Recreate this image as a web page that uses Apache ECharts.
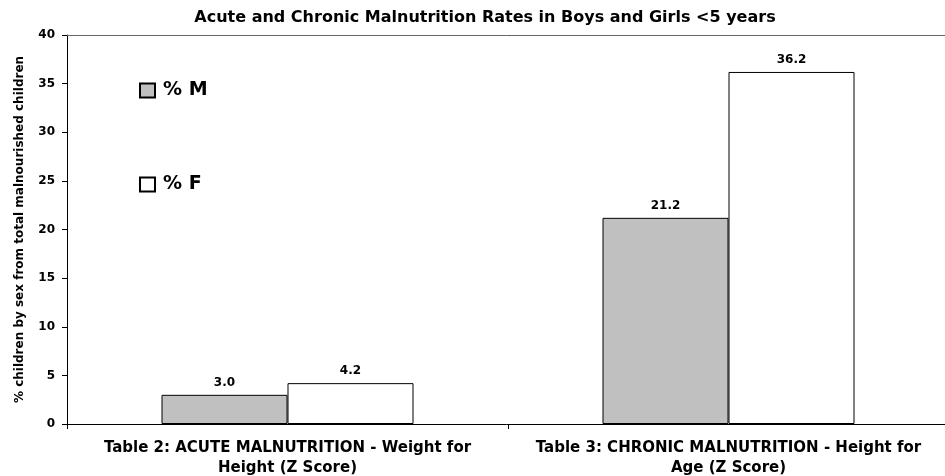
<!DOCTYPE html>
<html><head><meta charset="utf-8">
<script src="https://cdn.jsdelivr.net/npm/echarts@6/dist/echarts.min.js"></script>
<style>html,body{margin:0;padding:0;background:#fff}#c{width:945px;height:476px}</style>
</head><body><div id="c"></div>
<script>
const categories = ['Table 2: ACUTE MALNUTRITION - Weight for\nHeight (Z Score)', 'Table 3: CHRONIC MALNUTRITION - Height for\nAge (Z Score)'];
const seriesNames = ['% M', '% F'];
const maleValues = [3.0, 21.2];
const femaleValues = [4.2, 36.2];
const yTicks = {min: 0, max: 40, interval: 5};

const F = '"DejaVu Sans", sans-serif';
const chart = echarts.init(document.getElementById('c'), null, {renderer: 'canvas'});
const lbl = {show: true, position: 'top', distance: 6, color: '#000', fontFamily: F, fontWeight: 'bold', fontSize: 12,
  formatter: p => p.value.toFixed(1)};
const legendText = {fontFamily: F, fontWeight: 'bold', fontSize: 19, lineHeight: 19, color: '#000', padding: [0, 0, 0, 3]};
chart.setOption({
  animation: false,
  backgroundColor: '#fff',
  title: {text: 'Acute and Chronic Malnutrition Rates in Boys and Girls <5 years', left: 480, textAlign: 'center', top: 5,
    textStyle: {fontFamily: F, fontWeight: 'bold', fontSize: 16, color: '#000'}},
  legend: [
    {left: 134, top: 76, icon: 'rect', itemWidth: 15, itemHeight: 14, data: [seriesNames[0]], textStyle: legendText},
    {left: 134, top: 170, icon: 'rect', itemWidth: 15, itemHeight: 14, data: [seriesNames[1]], textStyle: legendText}
  ],
  grid: {left: 67, right: -4, top: 35, bottom: 52, containLabel: false, outerBoundsMode: 'none'},
  xAxis: [{type: 'category', data: categories,
    axisLine: {lineStyle: {color: '#000', width: 1}},
    axisTick: {show: true, length: 5, interval: 0, lineStyle: {color: '#000'}},
    axisLabel: {interval: 0, hideOverlap: false, color: '#000', fontFamily: F, fontWeight: 'bold', fontSize: 15, lineHeight: 20, margin: 14}},
    {type: 'category', position: 'top', data: categories, axisLine: {show: true, lineStyle: {color: '#666'}},
     axisTick: {show: false}, axisLabel: {show: false}}],
  yAxis: {type: 'value', min: yTicks.min, max: yTicks.max, interval: yTicks.interval,
    name: '% children by sex from total malnourished children', nameLocation: 'middle', nameGap: 41, nameRotate: 90,
    nameTextStyle: {fontFamily: F, fontWeight: 'bold', fontSize: 12, color: '#000'},
    axisLine: {show: true, lineStyle: {color: '#000'}},
    axisTick: {show: true, length: 5, lineStyle: {color: '#000'}},
    splitLine: {show: false},
    axisLabel: {color: '#000', fontFamily: F, fontWeight: 'bold', fontSize: 12, margin: 12}},
  series: [
    {name: seriesNames[0], type: 'bar', data: maleValues, barWidth: 126, barGap: '0%',
     itemStyle: {color: '#c0c0c0', borderColor: '#000', borderWidth: 1}, label: lbl},
    {name: seriesNames[1], type: 'bar', data: femaleValues, barWidth: 126, barGap: '0%',
     itemStyle: {color: '#ffffff', borderColor: '#000', borderWidth: 1}, label: lbl}
  ]
});
</script></body></html>
